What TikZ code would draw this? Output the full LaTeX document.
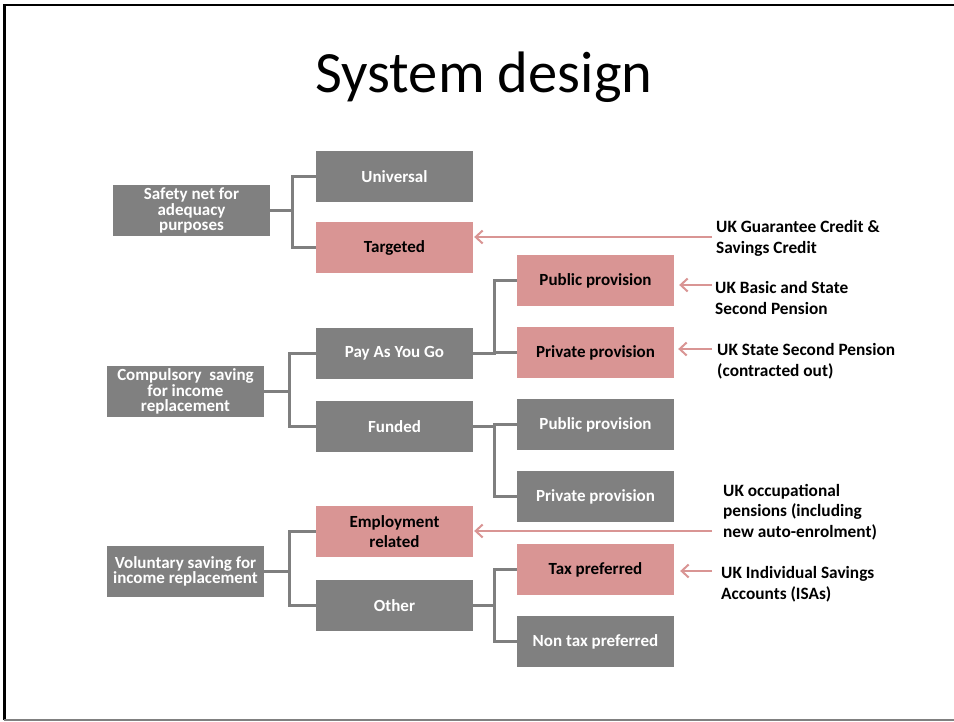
\documentclass[tikz,border=0pt]{standalone}
\usepackage{fontspec}
\setmainfont{Carlito}
\usetikzlibrary{arrows.meta}
\definecolor{boxgrey}{HTML}{808080}
\definecolor{boxpink}{HTML}{D99594}
\definecolor{linegrey}{HTML}{7F7F7F}
\begin{document}
\begin{tikzpicture}[x=1pt,y=-1pt,
  box/.style={minimum width=157pt, minimum height=51pt, inner sep=0pt, align=center,
    font=\fontsize{17}{15.5}\selectfont\bfseries},
  gbox/.style={box, fill=boxgrey, text=white},
  pbox/.style={box, fill=boxpink, text=black},
  conn/.style={draw=linegrey, line width=3pt},
  arr/.style={draw=boxpink, line width=2pt, -{Straight Barb[length=7pt,width=13pt]}},
  lbl/.style={anchor=west, align=left, inner sep=0pt, font=\fontsize{17.3}{20.5}\selectfont\bfseries},
  frame/.style={line width=2.5pt}]
\useasboundingbox (0,0) rectangle (954,722);
% frame
\draw[frame, black] (4.5,720) -- (4.5,5) -- (954,5);
\draw[frame, gray] (3.5,720) -- (954,720);
% title
\node[anchor=base, inner sep=0pt, font=\fontsize{58.5}{60}\selectfont] (title) at (484,93) {System design};
% boxes
\node[gbox] (safety) at (191.5,210.5) {Safety net for\\adequacy\\purposes};
\node[gbox] (univ) at (394.5,176.5) {Universal};
\node[pbox] (target) at (394.5,247.5) {Targeted};
\node[pbox] (pubpp) at (595.5,280.5) {Public provision};
\node[pbox] (privpp) at (595.5,352.5) {Private provision};
\node[gbox] (payg) at (394.5,353.5) {Pay As You Go};
\node[gbox] (comp) at (185.5,391.5) {Compulsory\ \ saving\\for income\\replacement};
\node[gbox] (funded) at (394.5,426.5) {Funded};
\node[gbox] (pubf) at (595.5,424.5) {Public provision};
\node[gbox] (privf) at (595.5,496.5) {Private provision};
\node[pbox, font=\fontsize{17}{20}\selectfont\bfseries] (empl) at (394.5,531.5) {Employment\\related};
\node[gbox] (vol) at (185.5,571.5) {Voluntary saving for\\income replacement};
\node[pbox] (tax) at (595.5,569.5) {Tax preferred};
\node[gbox] (other) at (394.5,605.5) {Other};
\node[gbox] (nontax) at (595.5,641.5) {Non tax preferred};
% connectors
\draw[conn] (safety.east) -- ++(22,0) coordinate (j1) |- (univ.west);
\draw[conn] (j1) |- (target.west);
\draw[conn] (comp.east) -- ++(25,0) coordinate (j2) |- (payg.west);
\draw[conn] (j2) |- (funded.west);
\draw[conn] (payg.east) -- ++(21,0) coordinate (j3) |- (pubpp.west);
\draw[conn] (j3) |- (privpp.west);
\draw[conn] (funded.east) -- ++(21,0) coordinate (j4) |- (pubf.west);
\draw[conn] (j4) |- (privf.west);
\draw[conn] (vol.east) -- ++(25,0) coordinate (j5) |- (empl.west);
\draw[conn] (j5) |- (other.west);
\draw[conn] (other.east) -- ++(21,0) coordinate (j6) |- (tax.west);
\draw[conn] (j6) |- (nontax.west);
% labels
\node[lbl] (l1) at (716,238.5) {UK Guarantee Credit \&\\Savings Credit};
\node[lbl] (l2) at (715,298) {UK Basic and State\\Second Pension};
\node[lbl] (l3) at (717,361) {UK State Second Pension\\(contracted out)};
\node[lbl] (l4) at (723,512) {UK occupational\\pensions (including\\new auto-enrolment)};
\node[lbl] (l5) at (721,584) {UK Individual Savings\\Accounts (ISAs)};
% arrows
\coordinate (a1) at (712,237);
\coordinate (a2) at (712,285);
\coordinate (a3) at (712,349);
\coordinate (a4) at (712,531);
\coordinate (a5) at (712,571);
\draw[arr, shorten >=1pt] (a1) -- (a1 -| target.east);
\draw[arr, shorten >=5pt] (a2) -- (a2 -| pubpp.east);
\draw[arr, shorten >=4pt] (a3) -- (a3 -| privpp.east);
\draw[arr, shorten >=1pt] (a4) -- (a4 -| empl.east);
\draw[arr, shorten >=6pt] (a5) -- (a5 -| tax.east);
\end{tikzpicture}
\end{document}
